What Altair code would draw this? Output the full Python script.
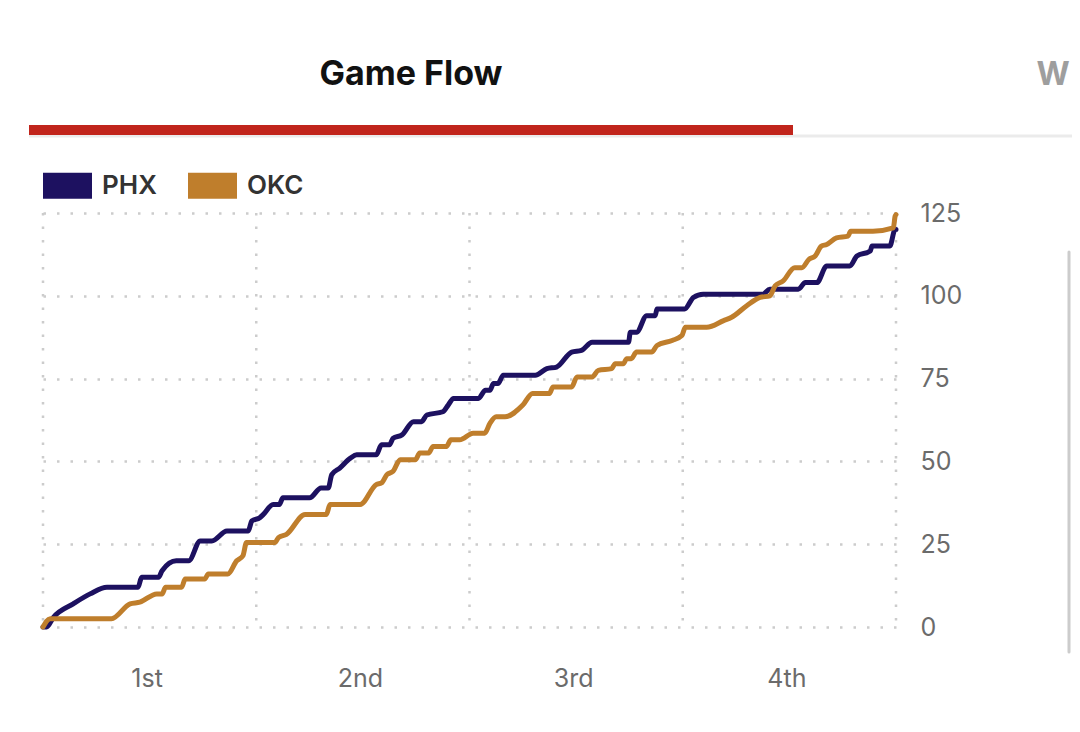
import json
import altair as alt
import pandas as pd

teams = ["PHX", "OKC"]
team_colors = ["#1D1160", "#BF7E2C"]
quarter_labels = ["1st", "2nd", "3rd", "4th"]
quarter_mid = [6, 18, 30, 42]
quarter_lines = [0, 12, 24, 36, 48]
score_ticks = [0, 25, 50, 75, 100, 125]

# (game minute, cumulative points) vertices
phx_flow = [
    (0, 0), (0.2, 0), (0.6, 3), (1.7, 7), (2.65, 10), (3.6, 12), (5.35, 12), (5.55, 15),
    (6.5, 15), (6.7, 17), (7.5, 20), (8.2, 20), (8.85, 26), (9.5, 26), (10.35, 29),
    (11.55, 29), (11.75, 32), (12.2, 33), (12.4, 34), (12.95, 37), (13.3, 37), (13.5, 39),
    (15.0, 39), (15.65, 42), (16.05, 42), (16.25, 46), (16.7, 48), (17.3, 51), (17.65, 52),
    (18.75, 52), (19.05, 55), (19.5, 55), (19.7, 57), (20.2, 58), (20.85, 62), (21.3, 62),
    (21.6, 64), (22.5, 65), (22.8, 67), (23.1, 69), (24.5, 69), (24.9, 71.5), (25.15, 71.5),
    (25.35, 73.5), (25.6, 73.5), (25.9, 76), (27.7, 76), (28.35, 78), (28.9, 78.5),
    (29.75, 83), (30.3, 83.5), (30.9, 86), (32.95, 86), (33.05, 89), (33.4, 89),
    (33.97, 94), (34.45, 94), (34.55, 96), (36.1, 96), (36.6, 99.5), (37.15, 100.5),
    (40.5, 100.5), (40.9, 102), (42.5, 102), (42.9, 104), (43.55, 104), (44.1, 109),
    (45.4, 109), (45.8, 112), (46.55, 113.5), (46.65, 115), (47.65, 115), (47.95, 120),
    (48, 120),
]
okc_flow = [
    (0, 0), (0.4, 2.5), (3.85, 2.5), (4.9, 7), (5.45, 7.5), (6.4, 10), (6.7, 10), (6.9, 12),
    (7.8, 12), (8.0, 14.5), (9.1, 14.5), (9.3, 16), (10.4, 16), (10.9, 20), (11.25, 21.5),
    (11.45, 25.5), (13.05, 25.5), (13.25, 27), (13.7, 28), (14.75, 34), (15.95, 34),
    (16.15, 37), (17.85, 37), (18.75, 43), (19.05, 43.5), (19.35, 46), (19.7, 47),
    (20.1, 50.5), (20.95, 50.5), (21.2, 52.5), (21.7, 52.5), (21.95, 54.5), (22.7, 54.5),
    (22.95, 56.5), (23.45, 56.5), (24.2, 58.5), (24.85, 58.5), (25.15, 61.5), (25.5, 63.5),
    (26.0, 63.5), (27.0, 67), (27.55, 70.5), (28.5, 70.5), (28.7, 72.5), (29.75, 72.5),
    (30.05, 75.5), (30.9, 75.5), (31.25, 77.5), (32.0, 78), (32.2, 79.5), (32.65, 79.5),
    (32.85, 81), (33.1, 81), (33.4, 83), (34.25, 83), (34.55, 85), (35.4, 86.5),
    (35.95, 88), (36.15, 90.5), (37.35, 90.5), (38.3, 92.5), (38.75, 93.5), (39.6, 97),
    (40.35, 99.5), (40.9, 100), (41.2, 103), (41.65, 104.5), (42.3, 108.5), (42.7, 108.5),
    (43.1, 111), (43.45, 112), (43.8, 115), (44.1, 115.5), (44.65, 117.5), (45.3, 118),
    (45.45, 119.5), (46.7, 119.5), (47.85, 120.5), (47.95, 124), (48, 124.5),
]

rows = []
for team, flow in (("PHX", phx_flow), ("OKC", okc_flow)):
    for i, (t, s) in enumerate(flow):
        rows.append({"team": team, "minute": t, "points": s, "order": i})
df = pd.DataFrame(rows)

FONT = "Inter"
x_scale = alt.Scale(domain=[0, 48], nice=False, zero=False)
y_scale = alt.Scale(domain=[0, 125], nice=False)

x_axis = alt.Axis(
    values=quarter_mid,
    labelExpr=json.dumps(quarter_labels) + "[floor(datum.value / 12)]",
    grid=False, domain=False, ticks=False, tickSize=0,
    labelPadding=39, labelFontSize=25, labelFont=FONT, labelColor="#6b6b6b",
    labelFontWeight=400, labelOffset={"expr": "-3"}, title=None,
)
y_axis = alt.Axis(
    orient="right", values=score_ticks, grid=True, gridDash=[2.5, 11],
    gridColor="#cccccc", gridWidth=2.5, domain=False, ticks=False, tickSize=0,
    labelPadding=24, labelFontSize=25, labelFont=FONT, labelColor="#6b6b6b",
    title=None,
)

grid_v = alt.Chart(pd.DataFrame({"minute": quarter_lines})).mark_rule(
    color="#cccccc", strokeWidth=2.5, strokeDash=[2.5, 11]
).encode(x=alt.X("minute:Q", scale=x_scale, axis=x_axis))

lines = alt.Chart(df).mark_line(
    interpolate="monotone", strokeWidth=5, strokeJoin="round", strokeCap="round"
).encode(
    x=alt.X("minute:Q", scale=x_scale, axis=x_axis),
    y=alt.Y("points:Q", scale=y_scale, axis=y_axis),
    color=alt.Color(
        "team:N",
        scale=alt.Scale(domain=teams, range=team_colors),
        sort=teams,
        legend=alt.Legend(
            title=None, orient="none", legendX=-13, legendY=-65, direction="horizontal",
            columns=2, symbolType="stroke", symbolSize=2401, symbolStrokeWidth=26,
            labelFontSize=26, labelFont=FONT, labelFontWeight=600, labelColor="#333333",
            labelOffset={"expr": "-3"}, columnPadding={"expr": "-21"}, padding=0,
            symbolOpacity=1,
        ),
    ),
    order="order:Q",
)

one = pd.DataFrame({"k": [0]})
tab_line = alt.Chart(one).mark_rule(color="#ebebeb", strokeWidth=3).encode(
    x=alt.value(-14), x2=alt.value(1040), y=alt.value(-77))
tab_bar = alt.Chart(one).mark_rule(color="#C1251C", strokeWidth=10).encode(
    x=alt.value(-14), x2=alt.value(750), y=alt.value(-83))
scrollbar = alt.Chart(one).mark_rule(color="#cccccc", strokeWidth=3, strokeCap="round").encode(
    x=alt.value(1026), y=alt.value(39), y2=alt.value(439))

title = alt.Chart(pd.DataFrame({"label": ["Game Flow"]})).mark_text(
    font=FONT, fontSize=34, fontWeight=700, color="#111111", align="center", baseline="alphabetic"
).encode(x=alt.value(368), y=alt.value(-128), text="label:N")
tab2 = alt.Chart(pd.DataFrame({"label": ["W"]})).mark_text(
    font=FONT, fontSize=32, fontWeight=700, color="#9e9e9e", align="center", baseline="alphabetic"
).encode(x=alt.value(1010), y=alt.value(-128), text="label:N")

chart = alt.layer(grid_v, lines, tab_line, tab_bar, scrollbar, title, tab2).properties(
    width=853, height=414,
    padding={"left": 35, "top": 205, "right": 176, "bottom": 75},
    autosize=alt.AutoSizeParams(type="none"),
    background="white",
).configure_view(stroke=None)

chart.save("out.html", embed_options={"renderer": "svg", "actions": False})
